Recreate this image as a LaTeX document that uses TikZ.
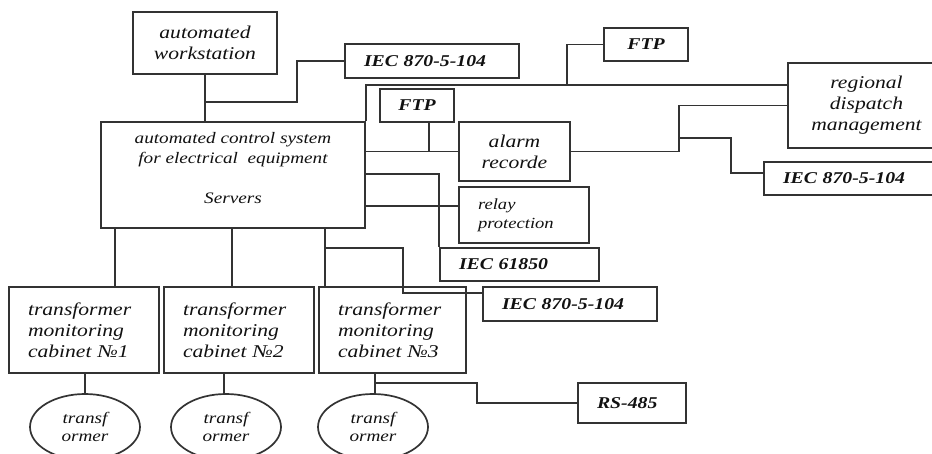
\documentclass[tikz,border=0pt]{standalone}
\usepackage{fontspec}
\setmainfont{Liberation Serif}[FakeStretch=1.2]
\usetikzlibrary{shapes.geometric}
\definecolor{lc}{HTML}{333333}
\definecolor{tc}{HTML}{111111}
\tikzset{
  box/.style={draw=lc, line width=1.7pt, rectangle, inner sep=0pt, align=center, text=tc},
  lbox/.style={box, align=left, inner xsep=19pt},
  ell/.style={draw=lc, line width=1.7pt, ellipse, inner sep=0pt, align=center, text=tc,
              minimum width=110pt, minimum height=66pt, font=\fontsize{16}{18}\selectfont\itshape},
  wire/.style={draw=lc, line width=1.7pt},
  itbig/.style={font=\fontsize{18}{21}\selectfont\itshape},
  itsrv/.style={font=\fontsize{16}{20}\selectfont\itshape},
  itsmall/.style={font=\fontsize{15.5}{19}\selectfont\itshape},
  bfit/.style={font=\fontsize{16.5}{20}\selectfont\bfseries\itshape}
}
\begin{document}
\begin{tikzpicture}[x=1pt,y=-1pt]
\useasboundingbox (0,0) rectangle (932,453);
% boxes
\node[box,itbig,minimum width=144pt,minimum height=62pt] (ws) at (205,43) {automated\\workstation};
\node[lbox,bfit,minimum width=174pt,minimum height=34pt,text width=136pt] (iec1) at (432,61) {IEC 870-5-104};
\node[box,bfit,minimum width=84pt,minimum height=33pt] (ftp1) at (646,44.5) {FTP};
\node[box,itsrv,minimum width=264pt,minimum height=106pt,text depth=14pt] (srv) at (233,175)
  {automated control system\\for electrical\ \ equipment\\[20pt]Servers};
\node[box,bfit,minimum width=74pt,minimum height=33pt] (ftp2) at (417,105.5) {FTP};
\node[box,itbig,minimum width=111pt,minimum height=59pt] (alarm) at (514.5,151.5) {alarm\\recorde};
\node[box,itbig,minimum width=157pt,minimum height=85pt] (reg) at (866.5,105.5) {regional\\dispatch\\management};
\node[lbox,bfit,minimum width=181pt,minimum height=33pt,text width=143pt] (iec2) at (854.5,178.5) {IEC 870-5-104};
\node[lbox,itsmall,minimum width=130pt,minimum height=56pt,text width=92pt] (relay) at (524,215) {relay\\protection};
\node[lbox,bfit,minimum width=159pt,minimum height=33pt,text width=121pt] (iec61850) at (519.5,264.5) {IEC 61850};
\node[lbox,bfit,minimum width=174pt,minimum height=34pt,text width=136pt] (iec3) at (570,304) {IEC 870-5-104};
\node[lbox,itbig,minimum width=150pt,minimum height=86pt,text width=112pt] (cab1) at (84,330) {transformer\\monitoring\\cabinet №1};
\node[lbox,itbig,minimum width=150pt,minimum height=86pt,text width=112pt] (cab2) at (239,330) {transformer\\monitoring\\cabinet №2};
\node[lbox,itbig,minimum width=147pt,minimum height=86pt,text width=109pt] (cab3) at (392.5,330) {transformer\\monitoring\\cabinet №3};
\node[lbox,bfit,minimum width=108pt,minimum height=40pt,text width=70pt] (rs) at (632,403) {RS-485};
\node[ell] (e1) at (85,427) {transf\\ormer};
\node[ell] (e2) at (226,427) {transf\\ormer};
\node[ell] (e3) at (373,427) {transf\\ormer};
% connectors
\coordinate (j1) at (205,102);
\coordinate (k1) at (297,102);
\draw[wire] (ws.south) -- (ws.south |- srv.north);
\draw[wire] (j1) -- (k1) |- (iec1.west);
\coordinate (r1) at (788,85);
\draw[wire] (srv.north east) |- (r1);
\coordinate (b1) at (567,85);
\draw[wire] (b1) |- (ftp1.west);
\coordinate (f2) at (429,122);
\coordinate (f2b) at (429,151.5);
\draw[wire] (f2) -- (f2b);
\draw[wire] (srv.east |- alarm.west) -- (alarm.west);
\coordinate (s61) at (365,174);
\draw[wire] (s61) -| (iec61850.north west);
\coordinate (sr) at (365,206);
\coordinate (rr) at (459,206);
\draw[wire] (sr) -- (rr);
\coordinate (d1) at (115,228);
\coordinate (d2) at (232,228);
\coordinate (d3) at (325,228);
\draw[wire] (d1) -- (d1 |- cab1.north);
\draw[wire] (d2) -- (d2 |- cab2.north);
\draw[wire] (d3) -- (d3 |- cab3.north);
\coordinate (m1) at (325,248);
\coordinate (m2) at (403,248);
\coordinate (m3) at (483,293);
\draw[wire] (m1) -- (m2) |- (m3);
\coordinate (g1) at (85,373);
\coordinate (g2) at (224,373);
\coordinate (g3) at (375,373);
\draw[wire] (g1) -- (g1 |- e1.north);
\draw[wire] (g2) -- (g2 |- e2.north);
\draw[wire] (g3) -- (g3 |- e3.north);
\coordinate (q1) at (375,383);
\coordinate (q2) at (477,383);
\draw[wire] (q1) -- (q2) |- (rs.west);
\coordinate (a1) at (679,151.5);
\draw[wire] (alarm.east) -- (a1) |- (reg.west);
\coordinate (a2) at (679,138);
\coordinate (a3) at (731,138);
\coordinate (a4) at (764,173);
\draw[wire] (a2) -- (a3) |- (a4);
\end{tikzpicture}
\end{document}
